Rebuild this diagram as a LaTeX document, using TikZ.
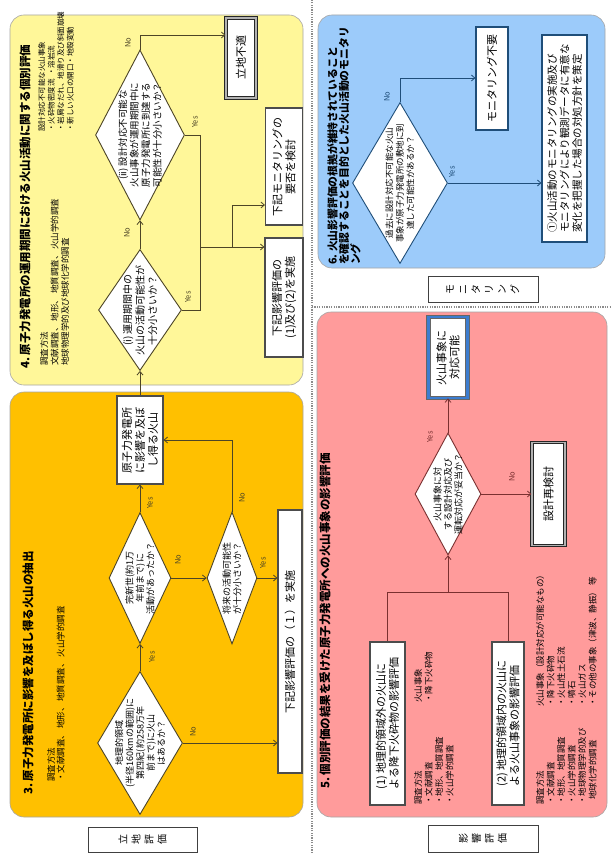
\documentclass[tikz,border=0pt]{standalone}
\usepackage{fontspec}
\setmainfont{Noto Sans CJK JP}
\usetikzlibrary{shapes.geometric,arrows.meta}
\definecolor{ylw}{HTML}{FFF799}
\definecolor{org}{HTML}{FFC000}
\definecolor{blu}{HTML}{9CCBFA}
\definecolor{pnk}{HTML}{FF9B9B}
\definecolor{lnO}{HTML}{4D4526}
\definecolor{lnB}{HTML}{1F4E79}
\definecolor{lnP}{HTML}{7A3030}
\definecolor{okb}{HTML}{3C7DD0}
\begin{document}
\begin{tikzpicture}[x=1pt,y=1pt,
  panel/.style={draw=black!35, line width=0.6pt, rounded corners=14pt},
  sep/.style={draw=black!45, line width=1.2pt, dash pattern=on 1.2pt off 1.2pt},
  ttl/.style={anchor=west, inner sep=0pt, font=\fontsize{11.5}{13.5}\selectfont\bfseries, align=left},
  lst/.style={anchor=north west, inner sep=0pt, font=\fontsize{8.5}{10.5}\selectfont, align=left},
  bx/.style={draw=black!70, line width=1.1pt, fill=white, align=center, inner sep=1pt, font=\fontsize{11}{13}\selectfont},
  dia/.style={diamond, draw=#1, line width=0.9pt, fill=white, inner sep=0pt},
  dt/.style={align=center, inner sep=0pt, font=\fontsize{9}{10.5}\selectfont},
  ar/.style={draw=#1, line width=0.8pt, -{Straight Barb[length=3.5pt,width=6pt]}},
  ln/.style={draw=#1, line width=0.8pt},
  yn/.style={inner sep=0pt, font=\fontsize{7.5}{8}\selectfont, text=#1},
  tag/.style={draw=black!75, line width=0.9pt, fill=white, align=center, inner sep=0pt, font=\fontsize{10}{13}\selectfont}
]
\useasboundingbox (0,0) rectangle (611,-853);
\fill[white] (0,0) rectangle (611,-853);
\begin{scope}[shift={(0,-853)},rotate=90,transform shape]
% separators
\draw[sep] (0,-312) -- (853,-312);
\draw[sep] (546,-312) -- (546,-611);
% panels
\draw[panel,fill=org] (36,-10) rectangle (461,-303);
\draw[panel,fill=ylw] (468,-10) rectangle (838,-303);
\draw[panel,fill=pnk] (36,-317) rectangle (541,-607);
\draw[panel,fill=blu] (585,-318) rectangle (838,-605);
% tags
\node[tag, minimum width=25, minimum height=109] (tagA) at (13.5,-142.5) {立\\地\\評\\価};
\node[tag, minimum width=27, minimum height=110] (tagB) at (14.5,-483) {影\\響\\評\\価};
\node[tag, minimum width=26, minimum height=110] (tagC) at (564,-483) {モ\\ニ\\タ\\リ\\ン\\グ};

% ===== 3 orange =====
\node[ttl] (t3) at (58,-28) {3.\ 原子力発電所に影響を及ぼし得る火山の抽出};
\node[lst, font=\fontsize{8.5}{9.5}\selectfont] (s3) at (71,-47) {調査方法\\・文献調査、\ 地形、\ 地質調査、\ 火山学的調査};
\node[dia=lnO, minimum width=143, minimum height=85] (d1) at (110,-140) {};
\node[dt] (d1t) at (d1.center) {地理的領域\\(半径160kmの範囲)に\\第四紀(約258万年\\前まで)に火山\\はあるか？};
\node[dia=lnO, minimum width=131, minimum height=62] (d2) at (275,-140) {};
\node[dt] (d2t) at (d2.center) {完新世(約1万\\年前まで)に\\活動があったか？};
\node[dia=lnO, minimum width=132, minimum height=50] (d3) at (275,-232) {};
\node[dt] (d3t) at (d3.center) {将来の活動可能性\\が十分小さいか？};
\node[bx, minimum width=88, minimum height=46] (fa) at (413,-140) {原子力発電所\\に影響を及ぼ\\し得る火山};
\node[bx, minimum width=263, minimum height=24] (fb) at (211.5,-290) {下記影響評価の（１）を実施};
\draw[ar=lnO] (d1.east) -- (d2.west);
\draw[ar=lnO] (d2.east) -- (fa.west);
\draw[ar=lnO] (d2.south) -- (d3.north);
\draw[ar=lnO] (d3.east) -| (fa.south);
\draw[ar=lnO] (d3.south) -- (d3.south |- fb.north);
\draw[ar=lnO] (d1.south) -- (d1.south |- fb.north);
\node[yn=lnO] (y1) at (196,-152) {Yes};
\node[yn=lnO] (n1) at (121,-193) {No};
\node[yn=lnO] (y2) at (350,-150) {Yes};
\node[yn=lnO] (n2) at (293,-178) {No};
\node[yn=lnO] (n3) at (355,-242) {No};
\node[yn=lnO] (y3) at (290,-263) {Yes};

% ===== 4 yellow =====
\node[ttl] (t4) at (484,-25) {4.\ 原子力発電所の運用期間における火山活動に関する個別評価};
\node[lst] (s4) at (487,-40) {調査方法\\文献調査、\ 地形、\ 地質調査、\ 火山学的調査\\地球物理学的及び地球化学的調査};
\node[lst, font=\fontsize{7.5}{9.5}\selectfont] (e4) at (721,-38) {設計対応不可能な火山事象\\・火砕物密度流\ \ ・溶岩流\\・岩屑なだれ、地滑り及び斜面崩壊\\・新しい火口の開口・地殻変動};
\node[dia=lnO, minimum width=121, minimum height=83] (di) at (543,-140) {};
\node[dt, font=\fontsize{10}{12.5}\selectfont] (dit) at (di.center) {(i) 運用期間中の\\火山の活動可能性が\\十分小さいか？};
\node[dia=lnO, minimum width=170, minimum height=89] (dii) at (718,-140) {};
\node[dt, font=\fontsize{9.5}{11.5}\selectfont] (diit) at (dii.center) {(ii) 設計対応不可能な\\火山事象が運用期間中に\\原子力発電所に到達する\\可能性が十分小さいか？};
\node[bx, minimum width=80, minimum height=30, draw=black!85, line width=1.2pt, double=gray!60, double distance=1.2pt] (fail) at (795,-241) {立地不適};
\node[bx, minimum width=117, minimum height=37] (mon) at (686.5,-284) {下記モニタリングの\\要否を検討};
\node[bx, minimum width=119, minimum height=38] (fd) at (555.5,-284) {下記影響評価の\\(1)及び(2)を実施};
\coordinate (jn) at (606,-200);
\coordinate (jb) at (606,-232);
\coordinate (mb) at (648,-232);
\coordinate (nf) at (818,-140);
\draw[ar=lnO] (fa.east) -- (di.west);
\draw[ar=lnO] (di.east) -- (dii.west);
\draw[ar=lnO] (dii.east) -- (nf) -- (nf |- fail.north);
\draw[ln=lnO] (dii.south) |- (jn);
\draw[ln=lnO] (di.south) |- (jn);
\draw[ar=lnO] (jn) -- (jn |- fd.north);
\draw[ar=lnO] (jb) -- (mb) -- (mb |- mon.north);
\node[yn=lnO] (n4) at (620,-127) {No};
\node[yn=lnO] (y4) at (556,-188) {Yes};
\node[yn=lnO] (y5) at (731,-195) {Yes};
\node[yn=lnO] (n5) at (810,-128) {No};

% ===== 5 pink =====
\node[ttl] (t5) at (64,-325) {5.\ 個別評価の結果を受けた原子力発電所への火山事象の影響評価};
\node[bx, align=left, minimum width=163, minimum height=35] (p1) at (129.5,-387.5) {(1) 地理的領域外の火山に\\よる降下火砕物の影響評価};
\node[bx, align=left, minimum width=163, minimum height=32] (p2) at (129.5,-508) {(2) 地理的領域内の火山に\\よる火山事象の影響評価};
\node[lst] (l1) at (48,-414) {調査方法\\・文献調査\\・地形、地質調査\\・火山学的調査};
\node[lst] (l2) at (150,-414) {火山事象\\・降下火砕物};
\node[lst] (l3) at (48,-536) {調査方法\\・文献調査\\・地形、地質調査\\・火山学的調査\\・地球物理学的及び\\\hspace*{0.6em}地球化学的調査};
\node[lst] (l4) at (146,-536) {火山事象（設計対応が可能なもの）\\・降下火砕物\\・火山性土石流\\・噴石\\・火山ガス\\・その他の事象（津波、静振）\ 等};
\node[dia=lnP, minimum width=122, minimum height=66] (d5) at (359,-448) {};
\node[dt] (d5t) at (d5.center) {火山事象に対\\する設計対応及び\\運転対応が妥当か？};
\node[bx, minimum width=81, minimum height=39, draw=black!60, line width=0.7pt, double=okb, double distance=2.8pt] (ok) at (495.5,-448) {火山事象に\\対応可能};
\node[bx, minimum width=103, minimum height=33, draw=black!85, line width=1.2pt, double=gray!60, double distance=1.2pt] (redo) at (359,-548.5) {設計再検討};
\coordinate (pa) at (261,-387.5);
\coordinate (pb) at (261,-508);
\coordinate (pj) at (261,-448);
\draw[ln=lnP] (p1.east) -- (pa) -- (pb) -- (p2.east);
\draw[ar=lnP] (pj) -- (d5.west);
\draw[ar=lnP] (d5.east) -- (ok.west);
\draw[ar=lnP] (d5.south) -- (redo.north);
\node[yn=lnP] (y6) at (416,-430) {Yes};
\node[yn=lnP] (n6) at (376,-512) {No};

% ===== 6 blue =====
\node[ttl, anchor=north west, font=\fontsize{10.8}{11.5}\selectfont\bfseries] (t6) at (588,-327) {6.\ 火山影響評価の根拠が維持されていること\\を確認することを目的とした火山活動のモニタリ\\ング};
\node[dia=lnB, minimum width=161, minimum height=95] (db) at (670,-400) {};
\node[dt, font=\fontsize{8.5}{10.5}\selectfont] (dbt) at (db.center) {過去に設計対応不可能な火山\\事象が原子力発電所の敷地に到\\達した可能性があるか？};
\node[bx, draw=lnB, minimum width=103, minimum height=32] (nn) at (774.5,-492) {モニタリング不要};
\node[bx, draw=lnB, align=left, minimum width=207, minimum height=45, font=\fontsize{10.5}{12.5}\selectfont] (mo) at (714.5,-564.5) {①火山活動のモニタリングの実施及び\\モニタリングにより観測データに有意な\\変化を把握した場合の対処方針を策定};
\coordinate (bn) at (775,-400);
\draw[ar=lnB] (db.east) -- (bn) -- (bn |- nn.north);
\draw[ar=lnB] (db.south) -- (db.south |- mo.north);
\node[yn=lnB] (n7) at (756,-387) {No};
\node[yn=lnB] (y7) at (681,-452) {Yes};
\end{scope}
\end{tikzpicture}
\end{document}
